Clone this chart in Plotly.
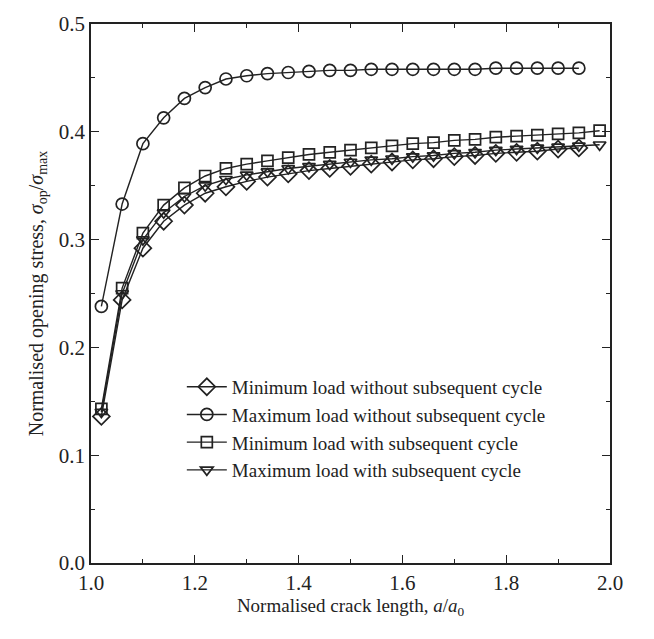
import plotly.graph_objects as go

x_circ = [1.02 + 0.04 * i for i in range(24)]
x_sq = [1.02 + 0.04 * i for i in range(25)]
x_dia = [1.02 + 0.04 * i for i in range(24)]
x_tri = [1.02 + 0.04 * i for i in range(25)]

min_without = [0.136, 0.244, 0.292, 0.317, 0.332, 0.343, 0.349, 0.354, 0.358, 0.361,
               0.364, 0.366, 0.368, 0.370, 0.372, 0.374, 0.375, 0.377, 0.378, 0.380,
               0.381, 0.382, 0.384, 0.385]
max_without = [0.238, 0.333, 0.389, 0.413, 0.431, 0.441, 0.449, 0.452, 0.454, 0.455,
               0.456, 0.457, 0.457, 0.458, 0.458, 0.458, 0.458, 0.458, 0.458, 0.459,
               0.459, 0.459, 0.459, 0.459]
min_with = [0.143, 0.255, 0.306, 0.332, 0.348, 0.359, 0.366, 0.370, 0.373, 0.376,
            0.379, 0.381, 0.383, 0.385, 0.387, 0.389, 0.390, 0.392, 0.393, 0.395,
            0.396, 0.397, 0.398, 0.399, 0.401]
max_with = [0.140, 0.250, 0.300, 0.325, 0.340, 0.350, 0.356, 0.360, 0.363, 0.366,
            0.368, 0.370, 0.372, 0.374, 0.375, 0.377, 0.378, 0.380, 0.381, 0.383,
            0.384, 0.385, 0.386, 0.387, 0.388]

names = ["Minimum load without subsequent cycle",
         "Maximum load without subsequent cycle",
         "Minimum load with subsequent cycle",
         "Maximum load with subsequent cycle"]

fig = go.Figure()
series = [
    (x_dia, min_without, "diamond-open", 13),
    (x_circ, max_without, "circle-open", 12),
    (x_sq, min_with, "square-open", 11),
    (x_tri, max_with, "triangle-down-open", 11),
]
for (xs, ys, sym, sz), nm in zip(series, names):
    fig.add_trace(go.Scatter(
        x=xs, y=ys, name=nm, mode="lines+markers",
        line=dict(color="#222", width=1.4),
        marker=dict(symbol=sym, size=sz, color="#222", line=dict(width=1.7, color="#222")),
    ))

font = "Liberation Serif, Times New Roman, serif"
axis_common = dict(
    showline=True, linecolor="#222", linewidth=1.6, mirror="ticks",
    ticks="inside", ticklen=8, tickwidth=1.3, tickcolor="#222",
    showgrid=False, zeroline=False,
    tickfont=dict(family=font, size=21, color="#222"),
)
fig.update_xaxes(range=[1.0, 2.0], dtick=0.2, tickformat=".1f",
                 minor=dict(ticks="inside", ticklen=4, dtick=0.1, tickcolor="#222", tickwidth=1.2),
                 title=dict(text="Normalised crack length, <i>a</i>/<i>a</i><sub>0</sub>",
                            font=dict(family=font, size=19, color="#222"), standoff=2),
                 **axis_common)
fig.update_yaxes(range=[0.0, 0.5], dtick=0.1, tickformat=".1f",
                 minor=dict(ticks="inside", ticklen=4, dtick=0.05, tickcolor="#222", tickwidth=1.2),
                 title=dict(text="Normalised opening stress, <i>σ</i><sub>op</sub>/<i>σ</i><sub>max</sub>",
                            font=dict(family=font, size=20, color="#222"), standoff=10),
                 **axis_common)

fig.update_layout(
    width=654, height=639,
    margin=dict(l=91, r=44, t=12, b=76),
    plot_bgcolor="white", paper_bgcolor="white",
    legend=dict(x=0.175, y=0.362, xanchor="left", yanchor="top",
                bgcolor="rgba(0,0,0,0)", tracegroupgap=0, itemwidth=40,
                font=dict(family=font, size=19, color="#222")),
    font=dict(family=font),
)
fig.write_html("out.html")
